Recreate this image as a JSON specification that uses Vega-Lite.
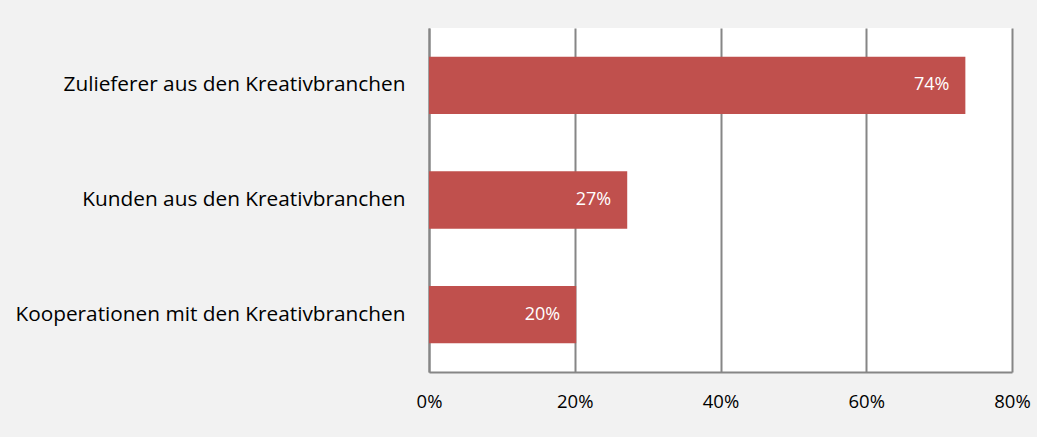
{
  "$schema": "https://vega.github.io/schema/vega-lite/v6.json",
  "autosize": {"type": "none"},
  "width": 583,
  "height": 344,
  "padding": {"left": 429, "top": 28, "right": 25, "bottom": 65},
  "background": "#f2f2f2",
  "config": {
    "view": {"fill": "white", "stroke": null},
    "font": "Open Sans"
  },
  "data": {
    "values": [
      {"kategorie": "Zulieferer aus den Kreativbranchen", "anteil": 0.736},
      {"kategorie": "Kunden aus den Kreativbranchen", "anteil": 0.272},
      {"kategorie": "Kooperationen mit den Kreativbranchen", "anteil": 0.202}
    ]
  },
  "encoding": {
    "y": {
      "field": "kategorie",
      "type": "nominal",
      "sort": null,
      "title": null,
      "scale": {"paddingInner": 0.5, "paddingOuter": 0.25},
      "axis": {
        "domainColor": "#868686",
        "domainWidth": 2,
        "ticks": false,
        "labelPadding": 24,
        "labelFontSize": 20.8,
        "labelColor": "#000000",
        "labelFont": "Open Sans",
        "labelLimit": 500
      }
    },
    "x": {
      "field": "anteil",
      "type": "quantitative",
      "title": null,
      "scale": {"domain": [0, 0.8], "nice": false},
      "axis": {
        "format": ".0%",
        "values": [0, 0.2, 0.4, 0.6, 0.8],
        "grid": true,
        "gridColor": "#868686",
        "gridWidth": 2,
        "domainColor": "#868686",
        "domainWidth": 2,
        "ticks": false,
        "labelPadding": 29,
        "labelFontSize": 18.5,
        "labelColor": "#000000",
        "labelFont": "Open Sans",
        "labelBaseline": "middle",
        "labelFlush": false
      }
    }
  },
  "layer": [
    {"mark": {"type": "bar", "color": "#c0504d"}},
    {
      "mark": {"type": "text", "align": "right", "dx": -16, "color": "white", "fontSize": 18, "font": "Open Sans"},
      "encoding": {"text": {"field": "anteil", "type": "quantitative", "format": ".0%"}}
    }
  ]
}
